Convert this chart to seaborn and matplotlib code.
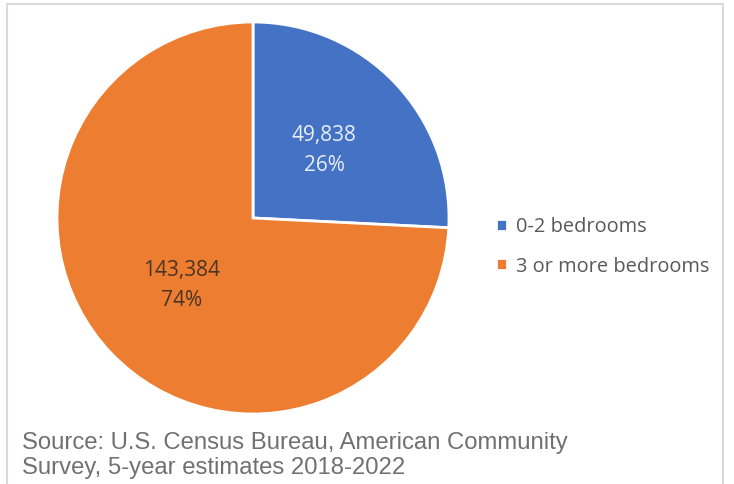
import matplotlib
matplotlib.use("Agg")
import matplotlib.pyplot as plt
from matplotlib.patches import Rectangle
import seaborn as sns

categories = ["0-2 bedrooms", "3 or more bedrooms"]
units = [49838, 143384]
colors = ["#4472C4", "#ED7D31"]
label_colors = ["#E9EEF8", "#4A3424"]
source_lines = ["Source: U.S. Census Bureau, American Community",
                "Survey, 5-year estimates 2018-2022"]

sns.set_theme(style="white")
plt.rcParams["font.family"] = ["Open Sans", "DejaVu Sans"]

W, H = 734, 484
fig = plt.figure(figsize=(W / 100, H / 100), dpi=100)
fig.patch.set_facecolor("white")

# light frame around the chart area
fig.add_artist(Rectangle((7 / W, -0.1), (723 - 7) / W, 1.1 - 4 / H,
                         transform=fig.transFigure, fill=False,
                         edgecolor="#DADADA", linewidth=1.5))

cx, cy, r = 253, 218, 196
ax = fig.add_axes([(cx - r) / W, (H - cy - r) / H, 2 * r / W, 2 * r / H])

total = sum(units)


def fmt(pct):
    val = int(round(pct * total / 100))
    return f"{val:,}\n{pct:.0f}%"


wedges, texts, autotexts = ax.pie(
    units, colors=colors, startangle=90, counterclock=False,
    autopct=fmt, pctdistance=0.5, radius=1,
    wedgeprops=dict(edgecolor="white", linewidth=2),
    textprops=dict(fontsize=15, linespacing=1.6))
for t, c in zip(autotexts, label_colors):
    t.set_color(c)
ax.set_xlim(-1, 1)
ax.set_ylim(-1, 1)
ax.set_aspect("equal")
ax.axis("off")

fig.legend(wedges, categories, loc="center left",
           bbox_to_anchor=(478 / W, 1 - 247 / H), frameon=False,
           fontsize=14.4, labelcolor="#595959",
           handlelength=0.55, handleheight=0.55, handletextpad=0.45,
           labelspacing=0.95)

for i, line in enumerate(source_lines):
    fig.text(22 / W, 1 - (443 + 25 * i) / H, line, fontsize=17.2,
             color="#707070", va="center", ha="left",
             family=["Liberation Sans", "DejaVu Sans"])

fig.savefig("out.png", dpi=100, facecolor="white")
